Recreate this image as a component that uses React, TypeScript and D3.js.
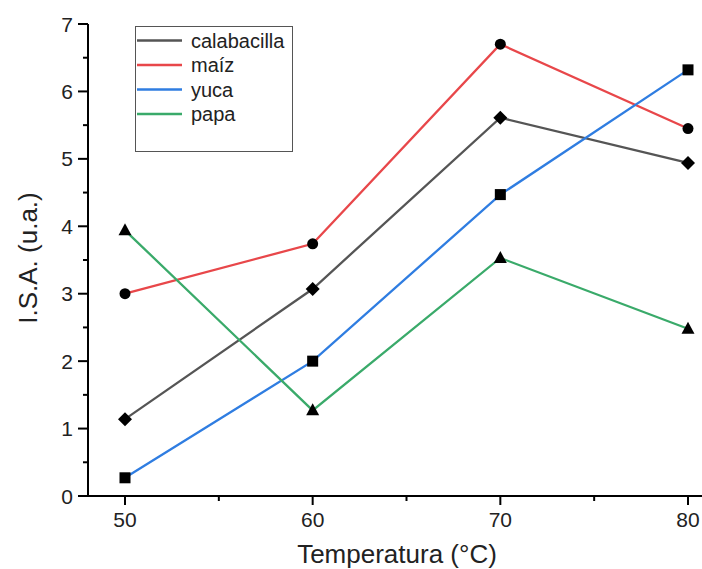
import React from "react";
import * as d3 from "d3";

const temps = [50, 60, 70, 80];
const calabacilla = [1.14, 3.07, 5.61, 4.94];
const maiz = [3.0, 3.74, 6.7, 5.45];
const yuca = [0.27, 2.0, 4.47, 6.32];
const papa = [3.94, 1.27, 3.53, 2.48];
const seriesNames = ["calabacilla", "maíz", "yuca", "papa"];
const seriesColors = ["#555555", "#e8474a", "#2f7de1", "#3aaa6a"];
const seriesShapes = ["diamond", "circle", "square", "triangle"];
const yTicks = [0, 1, 2, 3, 4, 5, 6, 7];
const xTicks = [50, 60, 70, 80];

const W = 702, H = 569;
const FONT = "'Liberation Sans', Arial, sans-serif";

export default function App() {
  const x = d3.scaleLinear().domain([50, 80]).range([125, 688]);
  const y = d3.scaleLinear().domain([0, 7]).range([496, 24]);
  const all = [calabacilla, maiz, yuca, papa];
  const line = d3.line<[number, number]>().x(d => x(d[0])).y(d => y(d[1]));
  const xMinor = [55, 65, 75];
  const yMinor = d3.range(0.5, 7, 1);

  const marker = (shape: string, cx: number, cy: number, key: string) => {
    if (shape === "circle") return <circle key={key} cx={cx} cy={cy} r={5.5} fill="#000" />;
    if (shape === "square") return <rect key={key} x={cx - 5.5} y={cy - 5.5} width={11} height={11} fill="#000" />;
    if (shape === "diamond") return <path key={key} d={`M${cx},${cy - 7}L${cx + 7},${cy}L${cx},${cy + 7}L${cx - 7},${cy}Z`} fill="#000" />;
    return <path key={key} d={`M${cx},${cy - 7}L${cx + 6.5},${cy + 5}L${cx - 6.5},${cy + 5}Z`} fill="#000" />;
  };

  return (
    <svg width={W} height={H} style={{ position: "absolute", left: 0, top: 0, background: "#fff" }} fontFamily={FONT}>
      <rect width={W} height={H} fill="#fff" />
      {/* axes */}
      <line x1={88} x2={88} y1={24} y2={497} stroke="#000" strokeWidth={2} />
      <line x1={87} x2={702} y1={496} y2={496} stroke="#000" strokeWidth={2} />
      {yTicks.map(t => (
        <g key={"yt" + t}>
          <line x1={78} x2={88} y1={y(t)} y2={y(t)} stroke="#000" strokeWidth={2} />
          <text x={73} y={y(t)} dy="0.36em" textAnchor="end" fontSize={21} fill="#222">{t}</text>
        </g>
      ))}
      {yMinor.map(t => (
        <line key={"ym" + t} x1={83} x2={88} y1={y(t)} y2={y(t)} stroke="#000" strokeWidth={2} />
      ))}
      {xTicks.map(t => (
        <g key={"xt" + t}>
          <line x1={x(t)} x2={x(t)} y1={496} y2={505} stroke="#000" strokeWidth={2} />
          <text x={x(t)} y={527} textAnchor="middle" fontSize={21} fill="#222">{t}</text>
        </g>
      ))}
      {xMinor.map(t => (
        <line key={"xm" + t} x1={x(t)} x2={x(t)} y1={496} y2={501} stroke="#000" strokeWidth={2} />
      ))}
      <text x={397} y={563} textAnchor="middle" fontSize={26} fill="#222">Temperatura (°C)</text>
      <text transform={`translate(37,258) rotate(-90)`} textAnchor="middle" fontSize={26} fill="#222">I.S.A. (u.a.)</text>
      {/* series */}
      {all.map((vals, i) => (
        <path key={"l" + i} d={line(vals.map((v, j) => [temps[j], v] as [number, number])) || ""} fill="none" stroke={seriesColors[i]} strokeWidth={2.3} />
      ))}
      {all.map((vals, i) => vals.map((v, j) => marker(seriesShapes[i], x(temps[j]), y(v), `m${i}-${j}`)))}
      {/* legend */}
      <rect x={135.5} y={26.5} width={157} height={125} fill="#fff" stroke="#555" strokeWidth={1} />
      {seriesNames.map((n, i) => (
        <g key={"lg" + i}>
          <line x1={137} x2={182} y1={40.5 + i * 24.5} y2={40.5 + i * 24.5} stroke={seriesColors[i]} strokeWidth={2.3} />
          <text x={191} y={40.5 + i * 24.5} dy="0.36em" fontSize={20} fill="#222">{n}</text>
        </g>
      ))}
    </svg>
  );
}
